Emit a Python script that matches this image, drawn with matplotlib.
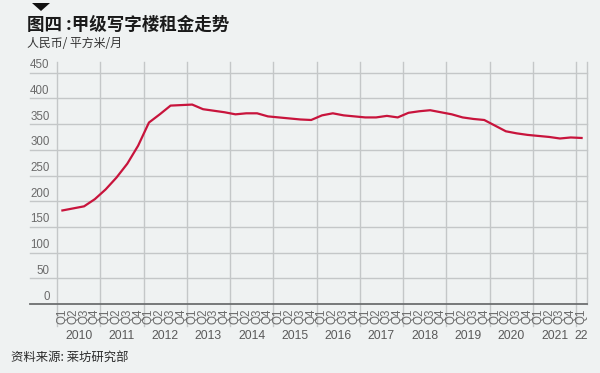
import matplotlib
matplotlib.use("Agg")
import matplotlib.pyplot as plt
from matplotlib.patches import Polygon
from matplotlib.lines import Line2D
import matplotlib.transforms as mtransforms

plt.rcParams['font.family'] = ['Noto Sans CJK SC', 'DejaVu Sans']

years = ["2010", "2011", "2012", "2013", "2014", "2015", "2016", "2017",
         "2018", "2019", "2020", "2021", "22"]
quarters = ["Q1", "Q2", "Q3", "Q4"]
quarter_labels = [q for y in years[:-1] for q in quarters] + ["Q1"]
rent = [182, 186, 190, 204,
        223, 246, 273, 308,
        353, 369, 386, 387,
        388, 379, 376, 373,
        369, 371, 371, 365,
        363, 361, 359, 358,
        367, 371, 367, 365,
        363, 363, 366, 363,
        372, 375, 377, 373,
        369, 363, 360, 358,
        347, 336, 332, 329,
        327, 325, 322, 324,
        323]
yticks = [0, 50, 100, 150, 200, 250, 300, 350, 400, 450]

title = "图四 :甲级写字楼租金走势"
unit = "人民币/ 平方米/月"
source = "资料来源: 莱坊研究部"

W, H = 600, 373
bg = "#eff2f2"
fig = plt.figure(figsize=(6, 3.73), dpi=100, facecolor=bg)
latin = ['Liberation Sans', 'DejaVu Sans']

# axes geometry in pixels
x0, x1 = 57, 587
y0, y1 = 304, 62
ax = fig.add_axes([x0 / W, (H - y0) / H, (x1 - x0) / W, (y0 - y1) / H])
ax.set_facecolor(bg)
n = len(rent)
ax.set_xlim(-0.5, n - 0.5)
ymax = 450 * (y0 - y1) / (304 - 72.7)
ax.set_ylim(0, ymax)
for s in ax.spines.values():
    s.set_visible(False)
ax.set_xticks([])
ax.set_yticks([])

grid_c = "#c4c7c8"
ext = (30 - x0) / (x1 - x0)
trans_h = mtransforms.blended_transform_factory(ax.transAxes, ax.transData)
for v in yticks:
    if v == 0:
        ax.add_line(Line2D([ext, 1], [0, 0], transform=trans_h, color="#6d6f70",
                           lw=1.3, clip_on=False, zorder=4))
    else:
        ax.add_line(Line2D([ext, 1], [v, v], transform=trans_h, color=grid_c,
                           lw=1.0, clip_on=False, zorder=1))

# y tick labels: right aligned at x=49px, just above each gridline
trans_lab = mtransforms.blended_transform_factory(fig.transFigure, ax.transData)
lab_tr = mtransforms.offset_copy(trans_lab, fig=fig, x=0, y=1.5, units='dots')
for v in yticks:
    ax.text(49.5 / W, v, str(v), transform=lab_tr,
            ha='right', va='bottom', fontsize=8.3, color="#6a6a6a",
            family=latin, clip_on=False)

# vertical year lines
bottom_ext = -(326 - y0) / (y0 - y1)
trans_v = mtransforms.blended_transform_factory(ax.transData, ax.transAxes)
for k in range(len(years)):
    xb = -0.5 + 4 * k
    ax.add_line(Line2D([xb, xb], [bottom_ext, 1], transform=trans_v,
                       color=grid_c, lw=1.0, clip_on=False, zorder=1))
ax.add_line(Line2D([n - 0.5, n - 0.5], [0, 1], transform=trans_v,
                   color=grid_c, lw=1.0, clip_on=False, zorder=1))

# data line
ax.plot(range(n), rent, color="#c8143c", lw=1.6, zorder=5,
        solid_joinstyle='round')

# quarter labels
ytop_q = -(309 - y0) / (y0 - y1)
for i, q in enumerate(quarter_labels):
    ax.text(i, ytop_q, q, transform=trans_v, rotation=90, ha='center', va='top',
            fontsize=8.4, color="#6a6a6a", family=latin, clip_on=False)

# year labels
y_year = -(336 - y0) / (y0 - y1)
for k, yr in enumerate(years):
    xc = 4 * k + 1.5 if k < len(years) - 1 else 4 * k
    ax.text(xc, y_year, yr, transform=trans_v, ha='center', va='center',
            fontsize=8.8, color="#5a5a5a", family=latin, clip_on=False)

# title block
fig.text(27 / W, 1 - 25 / H, title, ha='left', va='center', fontsize=12.6,
         fontweight='bold', color="#1a1a1a")
fig.text(27 / W, 1 - 43.5 / H, unit, ha='left', va='center', fontsize=8.6,
         color="#333333")
tri = Polygon([[32 / W, 1 - 3 / H], [50 / W, 1 - 3 / H], [41 / W, 1 - 11 / H]],
              closed=True, transform=fig.transFigure, facecolor="#111111",
              edgecolor='none')
fig.patches.append(tri)

# source
fig.text(11 / W, 1 - 357 / H, source, ha='left', va='center', fontsize=8.9,
         color="#2a2a2a")

fig.savefig("out.png", dpi=100, facecolor=bg)
